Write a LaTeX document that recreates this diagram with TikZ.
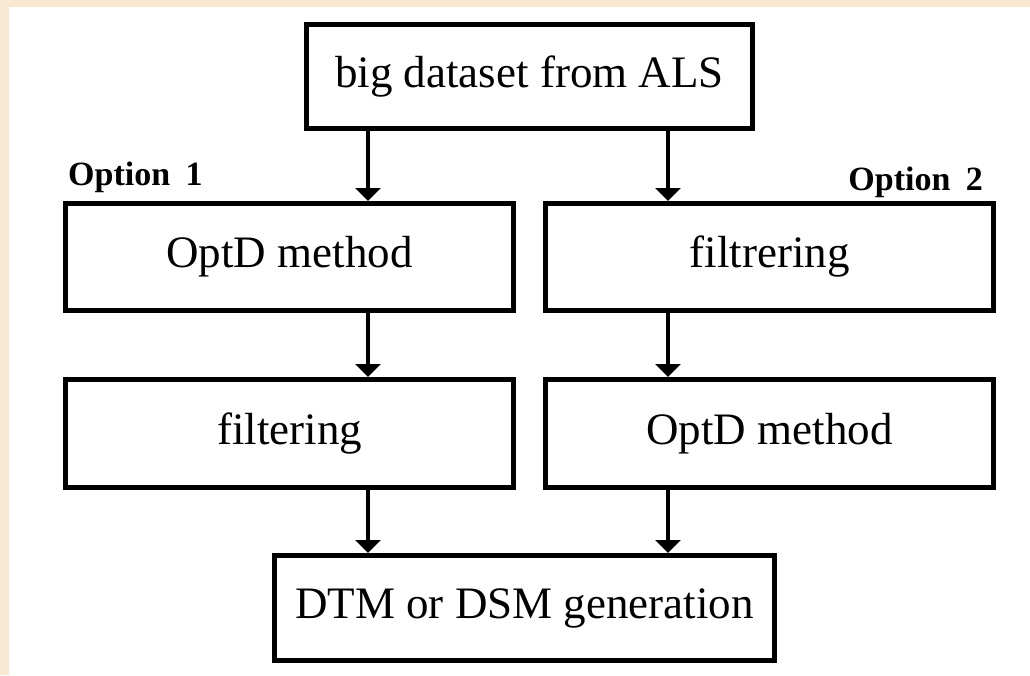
\documentclass[tikz,border=0pt]{standalone}
\usepackage{fontspec}
\setmainfont{Liberation Serif}
\usetikzlibrary{arrows.meta}
\definecolor{beige}{RGB}{249,232,209}
\tikzset{
  box/.style={draw=black, line width=5pt, fill=white, inner sep=0pt, align=center,
    font=\fontsize{45}{54}\selectfont},
  arr/.style={line width=4pt, -{Triangle[width=25pt,length=13pt]}},
  optlabel/.style={inner sep=0pt, font=\fontsize{34}{40}\selectfont\bfseries}
}
\begin{document}
\begin{tikzpicture}[x=1pt,y=-1pt]
\useasboundingbox (0,0) rectangle (1030,675);
\fill[beige] (0,0) rectangle (1030,675);
\fill[white] (9,7) rectangle (1030,675);
\node[box, minimum width=446pt, minimum height=104pt] (top) at (529.5,76.5) {big dataset from ALS};
\node[box, minimum width=448pt, minimum height=107pt] (l1) at (289.5,257) {OptD method};
\node[box, minimum width=448pt, minimum height=107pt] (r1) at (769.5,257) {filtrering};
\node[box, minimum width=448pt, minimum height=108pt] (l2) at (289.5,433.5) {filtering};
\node[box, minimum width=448pt, minimum height=108pt] (r2) at (769.5,433.5) {OptD method};
\node[box, minimum width=500pt, minimum height=105pt] (bot) at (524.5,608) {DTM or DSM generation};
\node[optlabel, anchor=base west] (o1) at (68,185) {Option\hspace{0.45em}1};
\node[optlabel, anchor=base east] (o2) at (983,190) {Option\hspace{0.45em}2};
\coordinate (xa) at (368,0);
\coordinate (xb) at (668,0);
\draw[arr] (top.south -| xa) -- (l1.north -| xa);
\draw[arr] (top.south -| xb) -- (r1.north -| xb);
\draw[arr] (l1.south -| xa) -- (l2.north -| xa);
\draw[arr] (r1.south -| xb) -- (r2.north -| xb);
\draw[arr] (l2.south -| xa) -- (bot.north -| xa);
\draw[arr] (r2.south -| xb) -- (bot.north -| xb);
\end{tikzpicture}
\end{document}
